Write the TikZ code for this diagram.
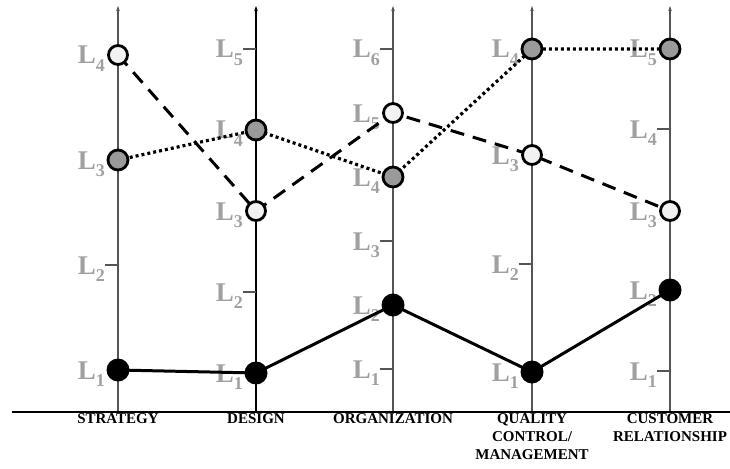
\documentclass[tikz,border=0pt]{standalone}
\usepackage{fontspec}
\setmainfont{Liberation Serif}
\usetikzlibrary{arrows.meta}
\definecolor{labgray}{HTML}{A0A0A0}
\definecolor{axgray}{HTML}{555555}
\definecolor{dotfill}{HTML}{9A9A9A}
\definecolor{openfill}{HTML}{F2F2F2}
\newcommand{\mylab}[4]{\node[levlab] (#4) at (#1-13,#2+9) {L\raisebox{-7.5pt}{\fontsize{18}{18}\selectfont #3}};}
\newcommand{\mytick}[2]{\draw[tickline] (#1-13,#2) -- (#1,#2);}
\begin{document}
\begin{tikzpicture}[x=1pt,y=-1pt,
  axisline/.style={draw=axgray, line width=1.2pt, -{Stealth[length=5pt,width=3.5pt]}},
  tickline/.style={draw=axgray, line width=1.2pt},
  levlab/.style={anchor=base east, inner sep=0pt, text=labgray, font=\fontsize{27}{27}\selectfont\bfseries},
  cat/.style={anchor=north, align=center, inner sep=0pt, font=\fontsize{15}{18}\selectfont\bfseries},
  opendot/.style={circle, draw=black, line width=2.8pt, fill=openfill, minimum size=19pt, inner sep=0pt},
  graydot/.style={circle, draw=black, line width=2.8pt, fill=dotfill, minimum size=20pt, inner sep=0pt},
  blackdot/.style={circle, fill=black, minimum size=23pt, inner sep=0pt},
  dashline/.style={draw=black, line width=3pt, dash pattern=on 14pt off 9pt},
  dotline/.style={draw=black, line width=3.2pt, dash pattern=on 3pt off 3pt},
  solidline/.style={draw=black, line width=3pt}
]
\useasboundingbox (0,0) rectangle (730,468);
% axes
\foreach \x/\c in {118/axgray,256/black,393/axgray,532/axgray,670/axgray} {\draw[axisline, draw=\c] (\x,412) -- (\x,6);}
\draw[black, line width=2.5pt] (12,412) -- (730,412);
% ticks at free levels
\mytick{118}{265}
\mytick{256}{292}\mytick{256}{49}
\mytick{393}{369}\mytick{393}{241}\mytick{393}{49}
\mytick{532}{264}
\mytick{670}{371}\mytick{670}{129}
% level labels
\mylab{118}{370}{1}{sA}\mylab{118}{265}{2}{sB}\mylab{118}{160}{3}{sC}\mylab{118}{55}{4}{sD}
\mylab{256}{373}{1}{dA}\mylab{256}{292}{2}{dB}\mylab{256}{211}{3}{dC}\mylab{256}{130}{4}{dD}\mylab{256}{49}{5}{dE}
\mylab{393}{369}{1}{oA}\mylab{393}{305}{2}{oB}\mylab{393}{241}{3}{oC}\mylab{393}{177}{4}{oD}\mylab{393}{113}{5}{oE}\mylab{393}{49}{6}{oF}
\mylab{532}{372}{1}{qA}\mylab{532}{264}{2}{qB}\mylab{532}{155}{3}{qC}\mylab{532}{49}{4}{qD}
\mylab{670}{371}{1}{cA}\mylab{670}{290}{2}{cB}\mylab{670}{211}{3}{cC}\mylab{670}{129}{4}{cD}\mylab{670}{49}{5}{cE}
% category labels
\node[cat] (t1) at (118,413) {STRATEGY};
\node[cat] (t2) at (256,413) {DESIGN};
\node[cat] (t3) at (393,413) {ORGANIZATION};
\node[cat] (t4) at (532,413) {QUALITY\\CONTROL/\\MANAGEMENT};
\node[cat] (t5) at (670,413) {CUSTOMER\\RELATIONSHIP};
% point positions
\path
  (118,55) coordinate (a1) (256,211) coordinate (a2) (393,113) coordinate (a3) (532,155) coordinate (a4) (670,211) coordinate (a5)
  (118,160) coordinate (b1) (256,130) coordinate (b2) (393,177) coordinate (b3) (532,49) coordinate (b4) (670,49) coordinate (b5)
  (118,370) coordinate (k1) (256,373) coordinate (k2) (393,305) coordinate (k3) (532,372) coordinate (k4) (670,290) coordinate (k5);
\draw[dashline] (a1) -- (a2) -- (a3) -- (a4) -- (a5);
\draw[dotline] (b1) -- (b2) -- (b3) -- (b4) -- (b5);
\draw[solidline] (k1) -- (k2) -- (k3) -- (k4) -- (k5);
\foreach \i in {1,...,5} {
  \node[opendot] (A\i) at (a\i) {};
  \node[graydot] (B\i) at (b\i) {};
  \node[blackdot] (K\i) at (k\i) {};
}
\end{tikzpicture}
\end{document}
